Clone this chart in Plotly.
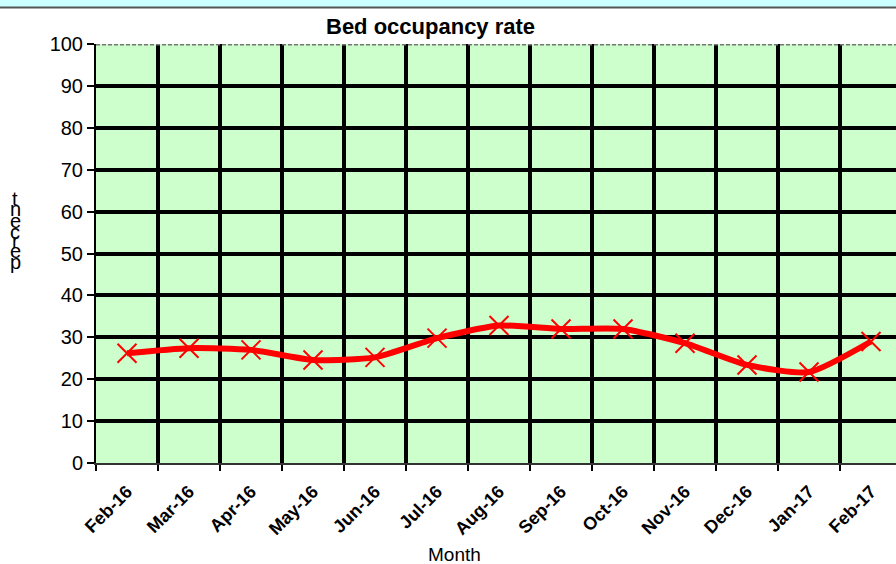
import plotly.graph_objects as go

months = ["Feb-16", "Mar-16", "Apr-16", "May-16", "Jun-16", "Jul-16", "Aug-16",
          "Sep-16", "Oct-16", "Nov-16", "Dec-16", "Jan-17", "Feb-17"]
occupancy = [26.2, 27.4, 27.0, 24.6, 25.2, 29.8, 32.8, 32.0, 32.0, 28.6, 23.4, 21.7, 29.0]
y_ticks = [0, 10, 20, 30, 40, 50, 60, 70, 80, 90, 100]

xpos = list(range(len(months)))
bounds = [i - 0.5 for i in range(len(months) + 1)]

fig = go.Figure()
fig.add_trace(go.Scatter(
    x=xpos, y=occupancy, mode="lines+markers",
    line=dict(color="#ff0000", width=6, shape="spline", smoothing=0.6),
    marker=dict(symbol="x-thin", size=19, line=dict(color="#ff0000", width=2)),
    showlegend=False, cliponaxis=False,
))

fig.update_layout(
    width=896, height=564,
    margin=dict(l=96, r=0, t=44, b=101, autoexpand=False),
    paper_bgcolor="white", plot_bgcolor="#ccffcc",
    font=dict(family="Arial, Liberation Sans", color="black"),
    xaxis=dict(
        range=[-0.5, 12.403], tickmode="array", tickvals=xpos, ticktext=months,
        tickangle=-45, showgrid=False, ticks="", automargin=False,
        tickfont=dict(size=18, weight="bold"), ticklabelstandoff=9,
        showline=True, linecolor="#333", linewidth=2,
        minor=dict(tickmode="array", tickvals=bounds, showgrid=True, gridcolor="black",
                   gridwidth=3.5, ticks="outside", ticklen=6, tickcolor="black", tickwidth=2),
        zeroline=False,
    ),
    yaxis=dict(
        range=[0, 100], tickmode="array", tickvals=y_ticks, automargin=False,
        showgrid=True, gridcolor="black", gridwidth=3.5,
        ticks="outside", ticklen=7, tickcolor="black", tickwidth=2,
        tickfont=dict(size=20), showline=True, linecolor="black", linewidth=2,
        zeroline=False,
    ),
)

# top light cyan band and separator line
fig.add_shape(type="rect", xref="paper", yref="paper", x0=-0.2, x1=1.05,
              y0=1.088, y1=1.2, fillcolor="#ccffff", line=dict(width=0), layer="below")
fig.add_shape(type="line", xref="paper", yref="paper", x0=-0.2, x1=1.05,
              y0=1.087, y1=1.087, line=dict(color="#555", width=2))
# top gridline (gray)
fig.add_shape(type="line", xref="paper", yref="y", x0=0, x1=1, y0=100, y1=100,
              line=dict(color="#777", width=3, dash="4px,2px"))

fig.add_annotation(text="<b>Bed occupancy rate</b>", xref="paper", yref="paper",
                   x=(430 - 96) / 800, y=(463 - 27) / 419, showarrow=False,
                   font=dict(size=22), xanchor="center", yanchor="middle")
fig.add_annotation(text="Month", xref="paper", yref="paper",
                   x=(454 - 96) / 800, y=(463 - 554) / 419, showarrow=False,
                   font=dict(size=19), xanchor="center", yanchor="middle")

# stacked y-axis title letters ("percent" reversed top to bottom)
letters = ["t", "n", "e", "c", "r", "e", "p"]
ypix = [199, 209, 221, 232, 241, 251, 262]
for ch, yp in zip(letters, ypix):
    fig.add_annotation(text=ch, xref="paper", yref="paper",
                       x=(15 - 96) / 800, y=(463 - yp) / 419, showarrow=False,
                       font=dict(size=20), xanchor="center", yanchor="middle")

fig.write_html("out.html", config={"responsive": False, "displayModeBar": False},
               post_script="document.body.style.margin='0';document.body.style.overflow='hidden';")
